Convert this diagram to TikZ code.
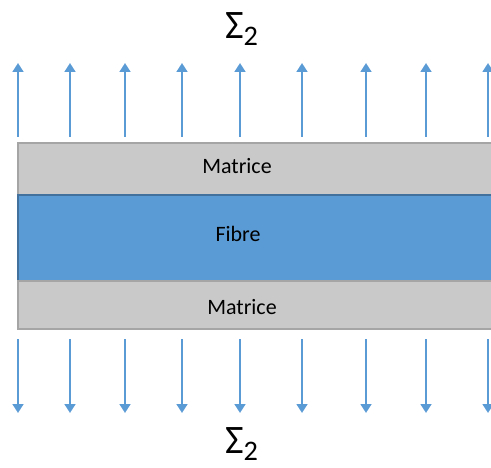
\documentclass[tikz,border=0pt]{standalone}
\usepackage{fontspec}
\setmainfont{Carlito}
\usetikzlibrary{arrows.meta,positioning,calc}
\definecolor{loadblue}{HTML}{5B9BD5}
\definecolor{fibreedge}{HTML}{41719C}
\definecolor{matgray}{HTML}{C9C9C9}
\definecolor{matedge}{HTML}{A5A5A5}

\begin{document}
\begin{tikzpicture}[
  layer/.style={draw, minimum width=9.58cm, inner sep=0pt, line width=0.6pt},
  mat/.style={layer, fill=matgray, draw=matedge},
  fib/.style={layer, fill=loadblue, draw=fibreedge, line width=0.8pt},
  lbl/.style={font=\fontsize{12.5}{14}\selectfont, text=black},
  sig/.style={font=\fontsize{23}{27}\selectfont, text=black},
  load/.style={draw=loadblue, line width=1.6pt, -{Triangle[width=6pt,length=5pt]}}
]
  \useasboundingbox (0,0) rectangle (9.82,-9.36);
  % layers
  \node[mat, minimum height=1.04cm] (mattop) at (5.15,-3.38) {};
  \node[fib, minimum height=1.72cm] (fibre) at (5.15,-4.76) {};
  \node[mat, minimum height=0.96cm] (matbot) at (5.15,-6.10) {};
  \node[lbl] (mattoplbl) at (4.74,-3.32) {Matrice};
  \node[lbl] (fibrelbl) at (4.76,-4.68) {Fibre};
  \node[lbl] (matbotlbl) at (4.84,-6.14) {Matrice};
  % loads
  \foreach \x [count=\i] in {0.36,1.40,2.50,3.64,4.80,6.04,7.32,8.52,9.76} {
    \coordinate (ub\i) at (\x,-2.74);
    \coordinate (ut\i) at (\x,-1.26);
    \coordinate (db\i) at (\x,-6.78);
    \coordinate (dt\i) at (\x,-8.26);
    \draw[load] (ub\i) -- (ut\i);
    \draw[load] (db\i) -- (dt\i);
  }
  \node[sig] (sigtop) at (4.84,-0.58) {Σ\textsubscript{2}};
  \node[sig] (sigbot) at (4.84,-8.88) {Σ\textsubscript{2}};
\end{tikzpicture}
\end{document}
